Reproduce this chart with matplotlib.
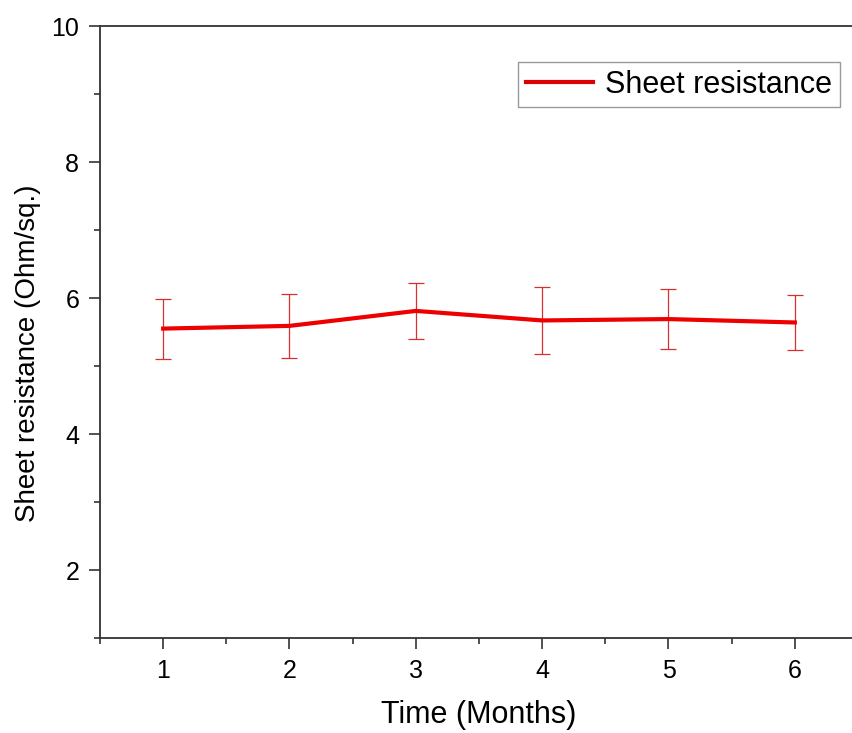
import numpy as np
import matplotlib
matplotlib.use("Agg")
import matplotlib.pyplot as plt
from matplotlib.ticker import MultipleLocator
from matplotlib.lines import Line2D

plt.rcParams['font.family'] = ['Liberation Sans', 'DejaVu Sans']

# data
months = [1, 2, 3, 4, 5, 6]
resistance = [5.55, 5.59, 5.81, 5.67, 5.69, 5.64]
err = [0.44, 0.47, 0.41, 0.49, 0.44, 0.40]

fig = plt.figure(figsize=(8.53, 7.33), dpi=100)
# right edge of the axes sits just past the figure edge, as in the original
ax = fig.add_axes([100 / 853, 95 / 733, 758 / 853, 612 / 733])

ax.errorbar(months, resistance, yerr=err, color='#ee0000', lw=3,
            ecolor='#d83030', elinewidth=0.9, capsize=6, capthick=0.9)

ax.set_xlim(0.5, 6.5)
ax.set_ylim(1, 10)
ax.xaxis.set_major_locator(MultipleLocator(1))
ax.xaxis.set_minor_locator(MultipleLocator(0.5))
ax.yaxis.set_major_locator(MultipleLocator(2))
ax.yaxis.set_minor_locator(MultipleLocator(1))

for s in ax.spines.values():
    s.set_linewidth(1.3)
    s.set_color('#333333')

ax.tick_params(which='both', direction='out', top=False, right=False,
               color='#333333', width=1.2)
ax.tick_params(which='major', length=8, labelsize=18, pad=7)
ax.tick_params(which='minor', length=4)

ax.set_xlabel('Time (Months)', fontsize=22, labelpad=12)
ax.set_ylabel('Sheet resistance (Ohm/sq.)', fontsize=20)
ax.yaxis.set_label_coords(-0.078, 0.466)

handle = Line2D([], [], color='#dd0000', lw=3)
leg = ax.legend([handle], ['Sheet resistance'], loc='upper right',
                bbox_to_anchor=(840 / 853, 671 / 733),
                bbox_transform=fig.transFigure, fontsize=22,
                fancybox=False, framealpha=1, edgecolor='#999999',
                handlelength=2.2, handletextpad=0.4, borderpad=0.25,
                borderaxespad=0)
leg.get_frame().set_linewidth(1.0)

fig.savefig('out.png', dpi=100)
